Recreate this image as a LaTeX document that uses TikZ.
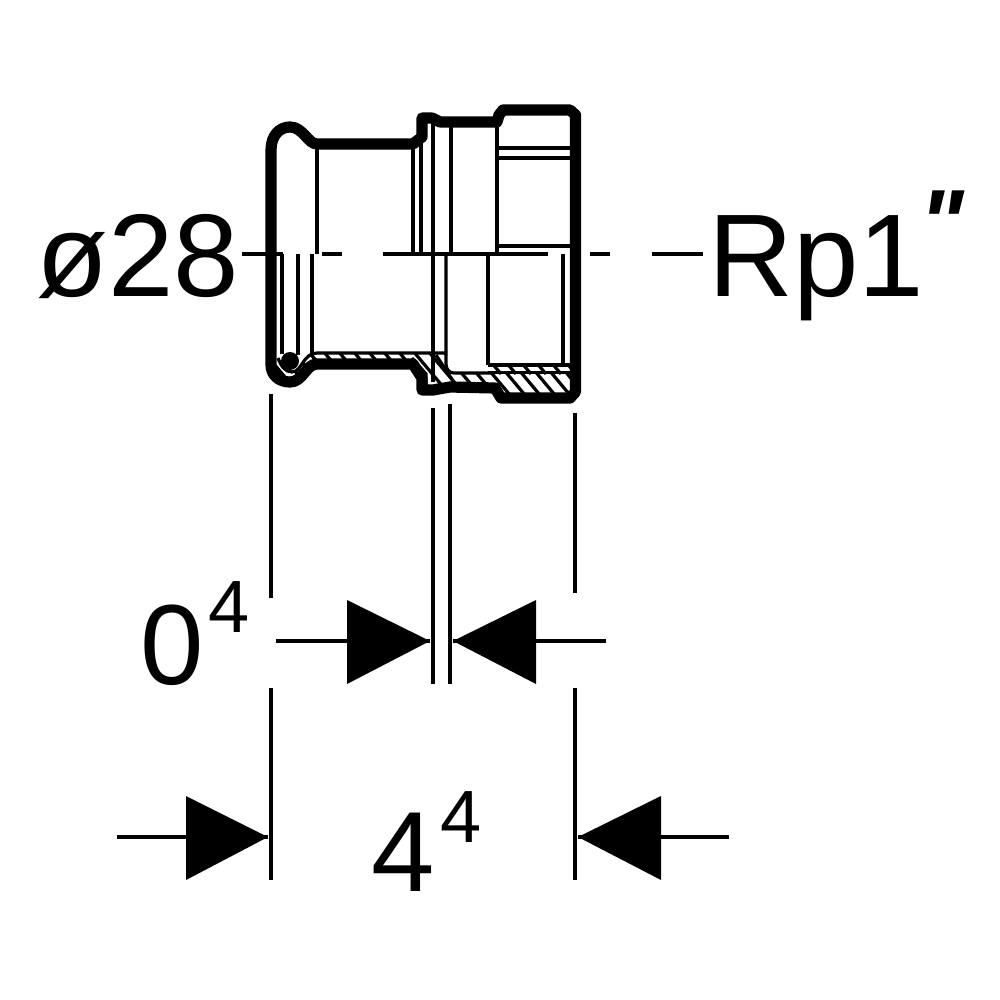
\documentclass[tikz,border=0pt]{standalone}
\usepackage{fontspec}
\setmainfont{Liberation Sans}
\newfontfamily\quotefont{Liberation Sans}
\tikzset{
  outline/.style={line width=5.6pt,line join=round,line cap=round},
  thinl/.style={line width=1.6pt},
  dim/.style={line width=1.8pt},
  hatchl/.style={line width=1.6pt},
  tip/.style={fill=black},
  big/.style={inner sep=0pt,font=\fontsize{58.8}{60}\selectfont,anchor=base west},
  mid/.style={inner sep=0pt,font=\fontsize{57}{60}\selectfont,anchor=base west},
  sup/.style={inner sep=0pt,font=\fontsize{37}{40}\selectfont,anchor=base west},
  quot/.style={inner sep=0pt,font=\fontsize{47}{50}\selectfont,anchor=base west},
}
\begin{document}
\begin{tikzpicture}[x=0.5pt,y=-0.5pt]
\useasboundingbox (0,0) rectangle (1000,1000);
% hatched section
\begin{scope}
\clip (272,360) .. controls (274,372) and (282,380) .. (291,380) .. controls (300,380) and (304,366) .. (317,361)
  -- (413,364) -- (424,378) -- (426,387) -- (495,387) -- (500,398) -- (575,398) -- (575,373) -- (488,373) -- (453,373)
  .. controls (448,371) and (446,369) .. (446,366) -- (446,353) -- (315,353) .. controls (304,356) and (302,372) .. (291,372) .. controls (284,372) and (280,366) .. (272,360) -- cycle;
\foreach \hx in {258,273,...,588}{
  \draw[hatchl] (\hx,345) -- ++(47,56);
}
\end{scope}
\begin{scope}
\clip (488,364) rectangle (572,374);
\foreach \hx in {470,485,...,570}{
  \draw[hatchl] (\hx,355) -- ++(16,19);
}
\end{scope}
% outline
\draw[outline] (271,150) .. controls (271,135) and (280,127) .. (290,127) .. controls (303,127) and (308,144) .. (317,144)
  -- (413,144) -- (422,137) -- (422,118) -- (432,118) -- (440,122) -- (497,122) -- (499,115) -- (503,110) -- (570,110) -- (575.5,115)
  -- (575.5,392) -- (570,398) -- (501,398) -- (495,388) -- (450,387) -- (433,390) -- (422,390) -- (422,378) -- (413,364) -- (317,364)
  .. controls (306,364) and (303,382) .. (290,382) .. controls (279,382) and (271,375) .. (271,365) -- cycle;
% thin section lines
\draw[thinl] (278,358) .. controls (281,366) and (285,372) .. (292,372) .. controls (302,372) and (303,353) .. (317,353) -- (447,353);
\fill (290,361) circle (9);
\draw[thinl] (412,358) -- (426,374) -- (426,385);
\draw[thinl] (446,254) -- (446,364) .. controls (446,369) and (449,373) .. (454,373) -- (493,373);
\draw[thinl] (488,372.5) -- (571,372.5);
\draw[thinl] (488,365) -- (571,365);
\draw[thinl] (436,355) -- (455,384);
% verticals above axis
\foreach \vx/\vy in {317/147,413/147,421/140,433/123,451/125,497/122}{
  \draw[thinl] (\vx,\vy) -- (\vx,254);
}
% verticals below axis
\foreach \vx/\vy in {282/354,298/355,312/356,433/382,488/365,563/365}{
  \draw[thinl] (\vx,254) -- (\vx,\vy);
}
\foreach \hy in {148,158,246}{
  \draw[thinl] (497,\hy) -- (572,\hy);
}
% centre line
\draw[thinl] (242,254) -- (283,254);
\draw[thinl] (322,254) -- (342,254);
\draw[thinl] (383,254) -- (548,254);
\draw[thinl] (590,254) -- (610,254);
\draw[thinl] (652,254) -- (703,254);
% extension lines
\draw[dim] (271,394) -- (271,598);
\draw[dim] (575,413) -- (575,593);
\draw[dim] (433,408) -- (433,684);
\draw[dim] (450,404) -- (450,684);
\draw[dim] (271,688) -- (271,880);
\draw[dim] (575,688) -- (575,880);
% dimension arrows
\coordinate (a1) at (430,641);
\coordinate (a2) at (453,641);
\coordinate (a3) at (268,837);
\coordinate (a4) at (578,837);
\coordinate (t1) at (276,641);
\coordinate (t2) at (606,641);
\coordinate (t3) at (117,837);
\coordinate (t4) at (729,837);
\draw[dim] (t1) -- (a1);
\draw[dim] (t2) -- (a2);
\draw[dim] (t3) -- (a3);
\draw[dim] (t4) -- (a4);
\fill[tip] (a1) -- (347,600) -- (347,684) -- cycle;
\fill[tip] (a2) -- (536,600) -- (536,684) -- cycle;
\fill[tip] (a3) -- (186,796) -- (186,880) -- cycle;
\fill[tip] (a4) -- (661,796) -- (661,880) -- cycle;
% texts
\node[big] (dia) at (36,296) {ø28};
\node[big] (rp) at (708,296) {Rp1};
\node[quot] (prime) at (919,256) {\quotefont\itshape\bfseries "};
\node[mid] (z0) at (140,684) {0};
\node[sup] (z0s) at (208,632) {4};
\node[mid] (z4) at (371,891) {4};
\node[sup] (z4s) at (440,842) {4};
\end{tikzpicture}
\end{document}
